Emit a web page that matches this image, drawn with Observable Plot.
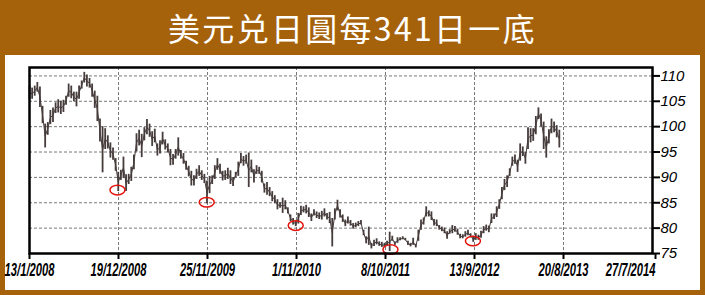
<!DOCTYPE html>
<html>
<head>
<meta charset="utf-8">
<script src="https://cdn.jsdelivr.net/npm/d3@7"></script>
<script src="https://cdn.jsdelivr.net/npm/@observablehq/plot@0.6"></script>
<style>
  html, body { margin:0; padding:0; }
  body { width:705px; height:295px; background:#a5620a; position:relative; overflow:hidden; }
  #title { position:absolute; left:0; top:0; width:705px; height:55px; line-height:55px; text-align:center;
           color:#fff; font-family:"Noto Sans CJK TC","Noto Sans CJK SC",sans-serif; font-size:32px; letter-spacing:2.3px; }
  #panel { position:absolute; left:5px; top:55px; width:695px; height:235px; background:#fff; }
  #panel svg { display:block; }
</style>
</head>
<body>
<div id="title">美元兑日圓每341日一底</div>
<div id="panel"></div>
<script>
const titleText = "美元兑日圓每341日一底";
const startDate = "2008-01-13";
const stepDays = 10;
const lows = [105.2,105.4,106.0,106.8,103.8,100.6,95.8,98.3,100.4,100.8,102.6,102.7,102.4,102.8,104.2,105.8,105.5,104.9,103.9,105.4,
107.4,108.6,107.8,107.6,105.8,103.6,101.0,97.0,90.9,95.5,95.6,93.8,93.4,91.2,87.2,89.4,89.8,87.2,88.6,89.2,
91.5,95.0,96.2,93.9,97.2,98.4,97.9,96.1,96.8,94.2,94.6,96.4,95.4,94.8,92.3,92.4,93.6,94.2,93.6,92.6,
91.4,90.1,88.3,88.3,89.6,90.2,89.4,88.8,84.8,86.8,88.6,89.6,91.4,90.6,89.3,89.4,89.6,88.6,88.2,89.9,
90.2,92.7,92.2,92.6,88.0,90.9,88.9,90.6,90.6,88.9,86.9,86.5,86.2,85.2,84.8,83.6,83.9,82.9,83.6,82.8,
81.3,80.6,80.3,80.8,82.5,83.0,82.8,82.1,81.3,82.4,81.9,81.7,81.6,82.2,81.6,80.9,76.3,81.6,83.4,82.0,
81.1,80.3,80.8,80.4,79.8,80.1,80.3,80.6,78.5,76.9,76.6,75.9,76.4,76.7,76.4,76.2,76.2,76.5,75.4,77.4,
76.6,77.0,77.5,77.7,77.5,76.6,76.3,76.6,76.1,77.4,79.6,80.6,82.2,82.2,81.5,80.4,80.3,79.6,79.3,78.9,
77.8,78.8,78.9,79.2,78.6,77.9,77.9,78.2,78.5,78.1,77.2,77.6,77.6,78.0,78.9,79.4,79.1,80.9,81.7,82.1,
83.7,85.6,87.4,88.0,90.2,92.2,92.6,91.0,93.2,94.1,92.6,95.5,96.8,97.1,98.4,101.4,100.0,95.5,93.8,96.6,
98.6,98.8,97.8,95.8];
const highs = [108.0,107.6,108.0,108.7,107.8,104.0,100.5,100.8,103.2,103.7,104.7,105.3,105.0,105.2,106.0,108.4,108.0,106.8,106.8,108.0,
109.0,110.7,110.2,109.5,108.4,107.0,106.0,101.5,100.0,99.6,98.2,96.8,95.8,93.7,91.0,91.4,94.0,90.5,90.6,92.0,
94.4,98.6,99.3,98.5,99.8,101.4,100.5,99.0,99.5,96.6,97.2,98.9,97.4,96.6,95.5,94.5,95.5,97.8,95.3,94.7,
93.2,92.2,91.2,90.3,91.6,92.3,91.3,90.6,89.3,90.2,90.3,92.3,93.7,92.6,91.2,91.3,91.8,91.3,90.0,91.0,
93.0,94.7,94.1,94.4,94.8,93.4,91.5,92.3,92.0,91.2,88.7,89.0,88.0,87.2,86.4,85.6,85.0,85.9,85.4,84.0,
82.6,81.9,81.4,82.9,84.3,84.2,84.5,84.0,82.8,83.6,83.2,83.0,83.3,83.8,82.9,83.1,81.9,83.8,85.5,83.6,
82.6,81.6,82.2,81.5,80.9,81.0,81.3,81.5,79.6,78.3,80.2,77.0,77.6,77.9,77.3,77.2,77.0,77.4,79.2,78.4,
77.3,78.1,78.1,78.3,78.0,77.4,77.0,78.0,76.8,79.6,81.6,82.0,84.2,83.4,83.2,81.7,81.6,80.5,80.2,80.0,
79.3,79.7,80.5,80.3,79.8,78.8,78.7,79.3,79.6,78.9,78.4,78.9,78.6,79.4,80.3,80.6,80.4,82.8,82.8,84.2,
85.6,88.0,89.6,90.3,91.7,94.0,94.4,93.4,96.6,96.0,94.9,99.8,99.6,99.6,102.0,103.7,102.5,100.9,98.0,99.4,
101.5,100.9,100.2,99.3];
const tickDates = ["2008-01-13","2008-12-19","2009-11-25","2010-11-01","2011-10-08","2012-09-13","2013-08-20","2014-07-27"];
const yTicks = [75,80,85,90,95,100,105,110];
const bottomDates = ["2008-12-15","2009-11-22","2010-10-29","2011-10-27","2012-09-07"];
const bottomValues = [87.5,85.1,80.5,75.8,77.45];

const parse = d3.utcParse("%Y-%m-%d");
const t0 = parse(startDate);
const bars = lows.map((lo, i) => ({date: d3.utcDay.offset(t0, i * stepDays), lo, hi: highs[i]}));
const ticks = tickDates.map(parse);
const bottoms = bottomDates.map((d, i) => ({date: parse(d), v: bottomValues[i]}));

const ellipse = {
  draw(ctx) {
    const rx = 7.5, ry = 4.8, k = 0.5523;
    ctx.moveTo(rx, 0);
    ctx.bezierCurveTo(rx, ry * k, rx * k, ry, 0, ry);
    ctx.bezierCurveTo(-rx * k, ry, -rx, ry * k, -rx, 0);
    ctx.bezierCurveTo(-rx, -ry * k, -rx * k, -ry, 0, -ry);
    ctx.bezierCurveTo(rx * k, -ry, rx, -ry * k, rx, 0);
    ctx.closePath();
  }
};

const fmt = d3.utcFormat("%-d/%-m/%Y");
const chart = Plot.plot({
  width: 695,
  height: 235,
  marginLeft: 24,
  marginRight: 48,
  marginTop: 12,
  marginBottom: 37,
  style: {fontFamily: "'Liberation Sans', Arial, sans-serif", background: "transparent", overflow: "visible"},
  x: {type: "utc", domain: [ticks[0], ticks[ticks.length - 1]]},
  y: {domain: [75, 111.66]},
  marks: [
    Plot.gridY(yTicks.slice(1), {stroke: "#555", strokeOpacity: 1, strokeWidth: 0.8, strokeDasharray: "3,2"}),
    Plot.gridX(ticks.slice(1, -1), {stroke: "#555", strokeOpacity: 1, strokeWidth: 0.8, strokeDasharray: "3,2"}),
    Plot.lineY(bars, {x: "date", y: d => (d.lo + d.hi) / 2, stroke: "#463c3c", strokeWidth: 1}),
    Plot.ruleX(bars, {x: "date", y1: "lo", y2: "hi", stroke: "#463c3c", strokeWidth: 1.8}),
    Plot.dot(bottoms, {x: "date", y: "v", symbol: ellipse, r: 5, fill: "none", stroke: "#e3120b", strokeWidth: 1.5}),
    Plot.frame({stroke: "#000", strokeWidth: 2.5}),
    Plot.axisY({anchor: "right", ticks: yTicks, tickSize: 7, tickPadding: 1, strokeWidth: 2, fontSize: 15, fontStyle: "italic", fill: "#000", label: null}),
    Plot.axisX({ticks: ticks.slice(0, -1), tickFormat: fmt, tickSize: 6, tickPadding: 3, strokeWidth: 2, fontSize: 19, fontStyle: "italic", fontWeight: "bold", fill: "#000", label: null}),
    Plot.axisX({ticks: ticks.slice(-1), tickFormat: fmt, tickSize: 6, tickPadding: 3, strokeWidth: 2, fontSize: 19, fontStyle: "italic", fontWeight: "bold", fill: "#000", textAnchor: "end", dx: 3, label: null})
  ]
});
document.getElementById("panel").appendChild(chart);

// condense the date labels horizontally (scale x around each label's anchor)
chart.querySelectorAll('g[aria-label="x-axis tick label"] text').forEach(t => {
  const tr = t.getAttribute("transform") || "";
  const x = parseFloat(t.getAttribute("x")) || 0;
  t.setAttribute("transform", `${tr} translate(${x},0) scale(0.59,1) translate(${-x},0)`);
});
</script>
</body>
</html>
